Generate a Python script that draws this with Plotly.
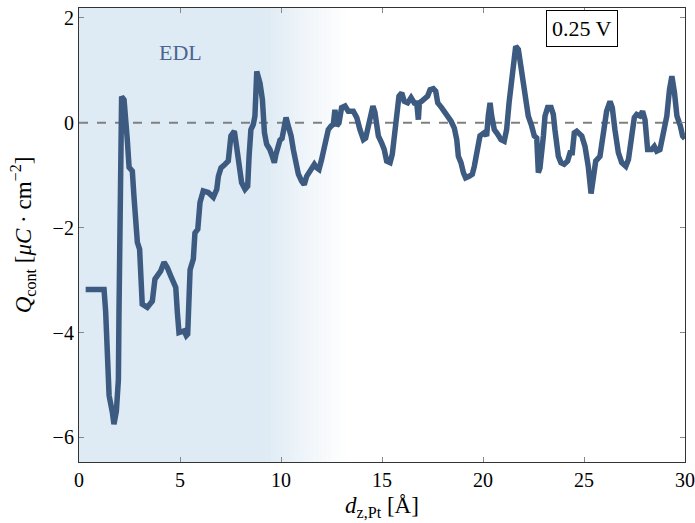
import plotly.graph_objects as go

# ---- data ----
d_z = [0.33, 1.24, 1.32, 1.40, 1.49, 1.65, 1.73, 1.85, 1.95, 1.98, 2.03, 2.08, 2.11, 2.23, 2.31,
       2.39, 2.48, 2.64, 2.72, 2.77, 2.89, 3.00, 3.05, 3.13, 3.38, 3.63, 3.76, 4.04, 4.21, 4.37,
       4.54, 4.79, 4.87, 4.95, 5.20, 5.31, 5.38, 5.45, 5.50, 5.66, 5.74, 5.88, 5.99, 6.15, 6.40,
       6.65, 6.82, 6.90, 7.03, 7.23, 7.39, 7.52, 7.69, 7.80, 7.92, 8.05, 8.22, 8.35, 8.42, 8.51,
       8.63, 8.71, 8.80, 8.96, 9.08, 9.18, 9.29, 9.45, 9.57, 9.67, 9.75, 9.85, 9.95, 10.05, 10.13,
       10.25, 10.36, 10.50, 10.61, 10.73, 10.86, 11.02, 11.15, 11.27, 11.44, 11.65, 11.77, 11.88,
       12.01, 12.14, 12.26, 12.34, 12.48, 12.59, 12.67, 12.76, 12.87, 13.00, 13.17, 13.33, 13.58,
       13.75, 13.91, 14.08, 14.19, 14.32, 14.49, 14.55, 14.65, 14.82, 14.98, 15.11, 15.23, 15.40,
       15.51, 15.61, 15.73, 15.84, 15.98, 16.10, 16.27, 16.44, 16.60, 16.72, 16.80, 16.85, 16.96,
       17.13, 17.26, 17.38, 17.54, 17.66, 17.76, 17.95, 18.12, 18.28, 18.42, 18.58, 18.70, 18.78,
       18.91, 19.03, 19.14, 19.31, 19.47, 19.57, 19.69, 19.85, 20.06, 20.18, 20.26, 20.35, 20.43,
       20.56, 20.73, 20.89, 21.05, 21.17, 21.29, 21.39, 21.50, 21.62, 21.75, 21.88, 22.00, 22.11,
       22.24, 22.41, 22.54, 22.66, 22.74, 22.82, 22.90, 22.99, 23.07, 23.20, 23.37, 23.48, 23.56,
       23.65, 23.73, 23.86, 24.02, 24.19, 24.31, 24.42, 24.52, 24.64, 24.75, 24.89, 25.05, 25.21,
       25.35, 25.46, 25.58, 25.79, 25.96, 26.12, 26.29, 26.40, 26.53, 26.70, 26.87, 27.07, 27.20,
       27.36, 27.49, 27.61, 27.77, 27.90, 28.02, 28.15, 28.35, 28.48, 28.60, 28.76, 28.93, 29.10,
       29.23, 29.35, 29.48, 29.60, 29.77, 29.88, 30.00]
q_cont = [-3.18, -3.18, -3.60, -4.76, -5.20, -5.52, -5.75, -5.50, -4.90, -3.60, -2.35, -0.76, 0.50, 0.44, -0.13,
          -0.32, -0.85, -0.92, -1.40, -1.71, -2.28, -2.41, -2.98, -3.46, -3.52, -3.40, -2.98, -2.83, -2.66, -2.76,
          -2.92, -3.14, -3.62, -4.00, -3.97, -4.06, -4.03, -3.36, -2.80, -2.60, -2.10, -2.03, -1.52, -1.30, -1.33,
          -1.42, -1.27, -1.02, -0.86, -0.79, -0.73, -0.25, -0.16, -0.45, -0.89, -1.14, -1.27, -1.21, -0.64, -0.13,
          -0.03, 0.13, 0.98, 0.76, 0.44, -0.19, -0.41, -0.51, -0.64, -0.76, -0.60, -0.40, -0.33, -0.30, -0.15,
          0.10, -0.06, -0.25, -0.51, -0.79, -0.98, -1.11, -1.18, -1.02, -0.92, -0.79, -0.86, -0.89,
          -0.70, -0.51, -0.32, -0.13, -0.06, -0.03, 0.25, -0.06, 0.00, 0.29, 0.32, 0.22, 0.22,
          0.10, -0.13, -0.32, -0.29, -0.03, 0.32, 0.32, 0.20, -0.25, -0.38, -0.51, -0.73, -0.76,
          -0.60, -0.19, 0.29, 0.51, 0.57, 0.41, 0.38, 0.48, 0.38, 0.38, 0.06, 0.38, 0.41,
          0.48, 0.51, 0.63, 0.65, 0.60, 0.38, 0.29, 0.19, 0.13, 0.03, -0.10, -0.32, -0.64,
          -0.76, -0.95, -1.05, -1.02, -0.98, -0.83, -0.51, -0.25, -0.19, -0.25, 0.13, 0.38, 0.13,
          -0.13, -0.22, -0.32, -0.35, -0.13, 0.38, 0.70, 1.21, 1.46, 1.40, 1.08, 0.76, 0.44,
          0.13, -0.06, -0.25, -0.29, -0.95, -0.86, -0.64, -0.25, 0.13, 0.29, 0.29, 0.16, -0.13,
          -0.45, -0.64, -0.76, -0.79, -0.73, -0.57, -0.57, -0.19, -0.16, -0.19, -0.25, -0.45, -0.83,
          -1.35, -1.02, -0.73, -0.64, -0.19, 0.22, 0.41, 0.29, -0.13, -0.57, -0.76, -0.83, -0.70,
          -0.25, 0.10, 0.16, 0.13, 0.22, 0.06, -0.51, -0.51, -0.45, -0.54, -0.51, -0.13, 0.13,
          0.63, 0.89, 0.57, 0.13, -0.06, -0.25, -0.30]

x_ticks = [0, 5, 10, 15, 20, 25, 30]
y_ticks = [-6, -4, -2, 0, 2]
edl_solid_end = 9.3
edl_fade_end = 13.3

LINE = "#3d5a80"
SHADE = (223, 235, 244)
FONT = "Liberation Serif"

fig = go.Figure()

# EDL shaded region (solid part + gradient fade to white)
shapes = [dict(type="rect", xref="x", yref="paper", x0=0, x1=edl_solid_end, y0=0, y1=1,
               fillcolor="rgb(%d,%d,%d)" % SHADE, line=dict(width=0), layer="below")]
n = 40
step = (edl_fade_end - edl_solid_end) / n
for i in range(n):
    t = (i + 0.5) / n
    c = tuple(round(s + (255 - s) * t) for s in SHADE)
    shapes.append(dict(type="rect", xref="x", yref="paper",
                       x0=edl_solid_end + i * step, x1=edl_solid_end + (i + 1) * step + 0.01,
                       y0=0, y1=1, fillcolor="rgb(%d,%d,%d)" % c, line=dict(width=0), layer="below"))
# zero reference line
shapes.append(dict(type="line", xref="paper", yref="y", x0=0, x1=1, y0=0, y1=0,
                   line=dict(color="#808080", width=2, dash="dash"), layer="below"))

fig.add_trace(go.Scatter(x=d_z, y=q_cont, mode="lines",
                         line=dict(color=LINE, width=5.5), showlegend=False))

fig.update_layout(
    width=695, height=523,
    margin=dict(l=79, r=10, t=8, b=61, autoexpand=False),
    paper_bgcolor="white", plot_bgcolor="white",
    shapes=shapes,
    font=dict(family=FONT, size=20, color="black"),
    xaxis=dict(range=[0, 30], tickvals=x_ticks, showgrid=False, zeroline=False,
               ticks="inside", ticklen=5, tickcolor="#888888", mirror="allticks",
               showline=True, linecolor="#333333", linewidth=1.2, automargin=False,
               title=dict(text="<i>d</i><sub>z,Pt</sub> [Å]", standoff=6, font=dict(size=23))),
    yaxis=dict(range=[-6.47, 2.19], tickvals=y_ticks,
               ticktext=["\u22126", "\u22124", "\u22122", "0", "2"],
               showgrid=False, zeroline=False, automargin=False,
               ticks="inside", ticklen=5, tickcolor="#888888", mirror="allticks",
               showline=True, linecolor="#333333", linewidth=1.2,
               title=dict(text="<i>Q</i><sub>cont</sub> [<i>μC</i> · cm<sup>−2</sup>]",
                          standoff=14, font=dict(size=23))),
    annotations=[
        dict(x=5, y=1.34, xref="x", yref="y", text="EDL", showarrow=False,
             font=dict(family=FONT, size=22, color="#4a6690")),
        dict(x=0.83, y=1, xref="paper", yref="paper", xanchor="center", yanchor="top", yshift=-2,
             text="0.25 V", showarrow=False, bgcolor="white",
             bordercolor="black", borderwidth=1, borderpad=5,
             font=dict(family=FONT, size=22, color="black")),
    ],
)

fig.write_html("out.html")
